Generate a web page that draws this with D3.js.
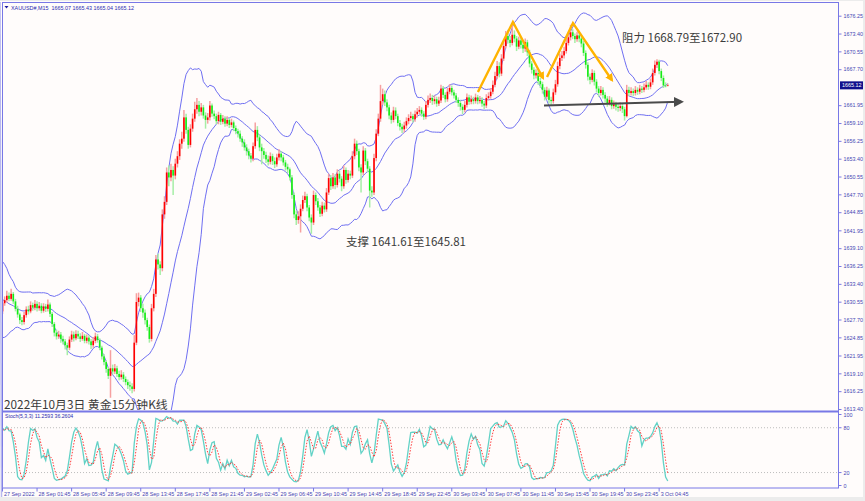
<!DOCTYPE html>
<html><head><meta charset="utf-8">
<script src="https://cdn.jsdelivr.net/npm/d3@7"></script>
<style>
html,body{margin:0;padding:0;background:#ececec;}
svg{display:block;}
</style></head><body>
<svg id="c" width="865" height="501"></svg>
<script>
// ---------- DATA ----------
const symbolTitle = "XAUUSD#,M15  1665.07 1665.43 1665.04 1665.12";
const stochTitle = "Stoch(5,3,3) 11.2593 36.2604";
const captionText = "2022年10月3日 黄金15分钟K线";
const supportText = "支撑 1641.61至1645.81";
const resistText = "阻力 1668.79至1672.90";

// bars before the visible window (only used to warm up indicators)
const priorClose = [1634.8,1635.6,1636.2,1635.1,1633.9,1634.5,1632.6,1631.4,1630.2,1628.9,1627.6,1628.4,1627.1,1626.5,1628.0,1629.3,1628.5,1629.8,1629.0];
const priorHigh  = [1635.4,1636.2,1636.9,1636.5,1635.5,1635.0,1634.8,1632.9,1631.7,1630.6,1629.3,1628.9,1628.8,1627.6,1628.6,1629.9,1629.7,1630.3,1630.1];
const priorLow   = [1634.0,1634.6,1635.3,1634.7,1633.4,1633.5,1632.1,1631.0,1629.8,1628.4,1627.0,1627.3,1626.6,1626.0,1626.2,1627.7,1628.0,1628.2,1628.5];

const closes = [
1630.3,1630.8,1631.5,1631.0,1631.8,1630.6,1629.4,1628.5,1627.6,1627.3,
1628.4,1629.3,1629.0,1630.0,1629.6,1630.2,1629.5,1629.9,1629.1,1629.8,
1629.4,1630.1,1628.6,1627.0,1625.6,1625.0,1625.3,1624.6,1624.2,1623.6,
1623.2,1624.5,1625.3,1624.7,1625.4,1625.0,1624.6,1625.1,1624.3,1624.8,
1624.2,1623.6,1624.3,1625.0,1624.4,1623.2,1621.8,1620.9,1619.8,1618.7,
1619.9,1619.4,1619.9,1619.0,1618.5,1618.9,1618.2,1617.7,1617.2,1617.0,
1616.6,1624.0,1630.5,1631.2,1629.5,1628.8,1627.6,1626.5,1624.6,1629.5,
1631.8,1637.3,1636.5,1635.9,1644.5,1646.5,1651.2,1650.4,1651.6,1650.7,
1652.6,1653.8,1655.8,1656.6,1660.0,1658.0,1655.6,1658.2,1659.8,1661.3,
1662.0,1660.9,1661.6,1660.3,1659.6,1660.0,1661.9,1660.6,1660.2,1659.4,
1660.4,1659.3,1659.8,1659.0,1659.6,1658.8,1659.2,1658.3,1657.8,1657.4,
1656.6,1656.0,1655.2,1654.6,1653.9,1653.4,1655.4,1658.0,1656.8,1655.2,
1654.6,1654.0,1653.3,1652.9,1653.8,1653.0,1652.5,1653.6,1654.2,1653.6,
1652.8,1652.1,1651.7,1650.4,1647.6,1644.5,1643.6,1644.2,1645.4,1646.8,
1647.4,1645.6,1644.0,1643.2,1647.6,1646.6,1645.6,1644.6,1645.9,1645.3,
1648.0,1650.3,1649.0,1650.4,1649.2,1651.0,1650.2,1649.0,1651.6,1650.0,
1651.0,1650.7,1653.8,1655.8,1654.6,1652.0,1651.2,1654.7,1653.0,1651.8,
1648.3,1648.0,1653.5,1657.4,1659.8,1662.6,1663.7,1662.4,1661.6,1660.3,
1659.6,1661.1,1660.2,1659.1,1658.5,1658.1,1658.7,1659.4,1659.9,1660.2,
1659.7,1660.5,1660.9,1661.2,1660.6,1660.1,1662.0,1662.8,1663.1,1662.6,
1662.9,1662.2,1662.7,1664.6,1663.6,1662.9,1664.1,1664.7,1664.0,1663.5,
1662.8,1662.3,1661.7,1661.2,1662.0,1663.2,1662.5,1662.9,1662.6,1663.2,
1662.6,1662.8,1662.2,1661.9,1663.1,1663.4,1664.1,1665.2,1666.6,1668.2,
1667.0,1669.4,1671.4,1673.0,1672.4,1671.9,1673.2,1672.6,1671.3,1672.3,
1671.6,1671.0,1672.0,1670.4,1668.6,1667.6,1666.7,1667.1,1665.8,1665.3,
1664.4,1663.3,1664.3,1662.8,1662.6,1664.0,1665.3,1668.2,1669.5,1669.9,
1670.6,1671.9,1672.8,1673.6,1673.0,1672.5,1673.1,1672.6,1671.8,1670.3,
1668.4,1666.5,1666.0,1667.1,1665.7,1664.6,1663.9,1664.4,1663.6,1663.0,
1662.3,1662.8,1661.8,1662.1,1661.7,1661.5,1661.8,1661.3,1660.2,1664.4,
1663.9,1664.2,1663.9,1664.4,1664.1,1664.6,1664.4,1664.8,1665.2,1664.9,
1665.6,1667.1,1668.4,1668.9,1667.4,1666.3,1665.1,1665.07,1665.12];

const highs = [
1630.9,1631.4,1632.3,1632.0,1632.6,1632.1,1631.0,1629.9,1628.8,1628.1,
1628.9,1629.8,1629.9,1630.6,1630.4,1630.8,1630.6,1630.5,1630.3,1630.3,
1630.2,1630.9,1630.4,1628.9,1627.3,1626.1,1625.9,1625.7,1625.1,1624.6,
1624.0,1625.0,1625.9,1625.8,1626.0,1625.9,1625.5,1625.7,1625.4,1625.3,
1625.2,1624.6,1624.9,1625.6,1625.4,1624.7,1623.5,1622.2,1621.2,1620.1,
1622.8,1620.5,1620.6,1620.3,1619.5,1619.6,1619.3,1618.6,1618.1,1617.8,
1617.5,1625.2,1631.9,1632.0,1631.6,1630.2,1629.3,1628.0,1626.9,1630.2,
1632.6,1638.0,1638.2,1637.0,1645.3,1647.4,1652.0,1652.3,1652.6,1652.2,
1653.4,1654.6,1656.5,1657.7,1661.2,1660.6,1658.5,1658.9,1660.6,1662.5,
1663.1,1662.6,1662.3,1662.0,1660.8,1660.7,1662.6,1662.2,1661.1,1660.6,
1660.9,1660.7,1660.4,1660.2,1660.2,1659.9,1659.8,1659.5,1658.7,1658.2,
1657.9,1657.0,1656.5,1655.7,1655.0,1654.3,1656.0,1659.2,1658.6,1657.3,
1655.8,1655.1,1654.5,1653.9,1654.4,1654.2,1653.6,1654.2,1654.9,1654.6,
1654.0,1653.2,1652.6,1652.0,1650.8,1648.0,1645.1,1645.0,1646.1,1647.5,
1648.1,1647.8,1646.0,1644.5,1648.3,1648.0,1647.1,1646.0,1646.5,1646.4,
1648.7,1651.0,1650.8,1651.1,1650.9,1651.7,1651.5,1650.6,1652.3,1652.0,
1651.6,1651.5,1654.6,1656.6,1656.3,1655.0,1652.5,1655.4,1655.1,1653.4,
1652.2,1649.0,1654.2,1658.1,1660.6,1665.2,1664.6,1664.3,1662.9,1662.0,
1660.8,1661.7,1661.6,1660.6,1659.6,1659.0,1659.3,1660.0,1660.5,1660.9,
1660.6,1661.1,1661.5,1661.8,1661.6,1661.0,1662.6,1663.5,1663.8,1663.6,
1663.5,1663.3,1663.3,1665.2,1665.0,1664.0,1664.7,1665.3,1665.1,1664.4,
1663.9,1663.2,1662.7,1662.1,1662.6,1663.8,1663.6,1663.5,1663.3,1663.8,
1663.6,1663.4,1663.2,1662.6,1663.7,1664.0,1664.7,1665.9,1667.3,1669.0,
1668.8,1670.1,1672.2,1673.8,1674.0,1673.0,1675.0,1673.9,1673.0,1672.9,
1672.8,1672.1,1672.6,1672.4,1670.8,1669.0,1668.0,1667.7,1667.5,1666.3,
1665.7,1664.8,1664.9,1664.6,1663.3,1664.6,1666.0,1668.9,1670.2,1670.6,
1671.3,1672.6,1673.5,1674.8,1674.1,1673.4,1673.7,1673.5,1673.0,1672.2,
1670.7,1668.8,1667.0,1667.7,1667.5,1666.1,1665.0,1665.0,1664.8,1664.0,
1663.4,1663.4,1663.2,1662.7,1662.5,1662.2,1662.4,1662.2,1661.7,1665.2,
1664.9,1664.8,1664.6,1665.0,1664.8,1665.2,1665.0,1665.4,1665.8,1665.6,
1666.2,1667.8,1669.1,1669.3,1669.2,1667.8,1666.7,1665.6,1665.43];

const lows = [
1628.6,1629.9,1630.4,1630.6,1630.7,1630.2,1629.0,1628.0,1627.0,1626.8,
1626.9,1628.0,1628.5,1628.7,1629.1,1629.2,1629.0,1629.1,1628.7,1628.8,
1628.9,1629.0,1628.1,1626.5,1625.0,1624.5,1624.6,1624.0,1623.7,1622.9,
1622.0,1622.8,1624.1,1624.2,1624.4,1624.6,1624.1,1624.3,1623.9,1623.9,
1623.7,1623.0,1623.2,1623.9,1624.0,1622.8,1621.3,1620.4,1619.2,1618.2,
1615.2,1618.9,1619.0,1618.5,1618.0,1618.1,1617.7,1617.2,1616.6,1616.3,
1615.9,1616.2,1623.6,1629.8,1628.9,1628.0,1626.9,1625.9,1624.0,1624.2,
1629.0,1631.3,1635.7,1634.8,1635.4,1643.8,1646.0,1649.0,1649.8,1647.6,
1650.1,1652.0,1653.2,1655.0,1656.1,1657.4,1655.0,1655.2,1657.7,1659.3,
1660.6,1660.2,1660.3,1659.8,1658.2,1659.0,1659.5,1660.1,1659.7,1658.9,
1658.9,1658.8,1658.9,1658.5,1658.6,1658.3,1658.4,1657.8,1657.3,1656.8,
1656.1,1655.3,1654.7,1653.9,1653.3,1652.8,1653.0,1655.0,1656.2,1654.6,
1652.5,1653.4,1652.7,1652.3,1652.5,1652.4,1651.9,1652.1,1653.1,1653.0,
1652.3,1651.5,1651.1,1649.9,1647.0,1643.9,1642.8,1643.0,1641.6,1645.0,
1646.3,1645.0,1643.4,1641.4,1642.8,1646.0,1645.1,1644.1,1644.2,1644.8,
1644.9,1647.6,1648.4,1648.6,1648.5,1648.8,1649.6,1648.2,1648.6,1649.4,
1649.6,1650.1,1650.3,1653.3,1654.0,1651.4,1648.0,1650.8,1652.4,1651.2,
1645.6,1647.3,1647.6,1653.0,1657.0,1659.3,1662.0,1661.8,1661.0,1659.7,
1659.0,1659.2,1659.7,1658.6,1657.9,1657.5,1657.6,1658.2,1658.9,1659.4,
1659.2,1659.3,1660.0,1660.5,1660.1,1659.6,1659.7,1661.6,1662.3,1662.0,
1662.1,1661.7,1661.8,1662.3,1663.1,1662.4,1662.5,1663.7,1663.5,1663.0,
1662.3,1661.7,1661.1,1660.5,1660.8,1661.6,1662.0,1662.1,1662.1,1662.2,
1662.1,1662.2,1661.7,1661.3,1661.5,1662.7,1663.0,1663.7,1664.8,1666.1,
1666.4,1666.6,1669.0,1671.0,1671.8,1671.2,1671.5,1672.0,1670.6,1670.9,
1671.0,1670.3,1670.5,1669.8,1668.0,1667.0,1666.1,1666.2,1665.2,1664.7,
1663.8,1662.7,1662.9,1662.2,1662.0,1662.2,1663.6,1664.9,1667.7,1669.0,
1669.4,1670.2,1671.5,1672.3,1672.5,1671.9,1672.1,1672.0,1671.2,1669.8,
1667.8,1665.9,1665.3,1665.6,1665.1,1664.0,1663.3,1663.5,1663.0,1662.4,
1661.7,1661.9,1661.3,1661.4,1661.1,1660.9,1661.0,1660.7,1659.5,1660.0,
1663.4,1663.5,1663.4,1663.5,1663.6,1663.7,1663.9,1664.0,1664.4,1664.4,
1664.5,1665.2,1666.7,1667.9,1666.9,1665.8,1664.7,1664.8,1665.04];

// 1664.85 sits under the current-price box in the reference, so it is not labelled
const priceTicks = [1676.25,1673.40,1670.55,1667.70,1661.95,1659.10,1656.25,1653.40,1650.55,1647.70,1644.85,1641.95,1639.10,1636.25,1633.40,1630.55,1627.70,1624.85,1621.95,1619.10,1616.25,1613.40];
const stochTicks = [100,80,20,0];
const stochLevels = [80,20];
const timeLabels = ["27 Sep 2022","28 Sep 01:45","28 Sep 05:45","28 Sep 09:45","28 Sep 13:45","28 Sep 17:45","28 Sep 21:45","29 Sep 02:45","29 Sep 06:45","29 Sep 10:45","29 Sep 14:45","29 Sep 18:45","29 Sep 22:45","30 Sep 03:45","30 Sep 07:45","30 Sep 11:45","30 Sep 15:45","30 Sep 19:45","30 Sep 23:45","3 Oct 04:45"];
const timeLabelBars = [0,16,32,48,64,80,96,112,128,144,160,176,192,208,224,240,256,272,288,304];

// annotations in (bar index, price)
const mUpDown1 = [[220.1,1664.06],[236.3,1675.24],[250.2,1666.3]];
const mUpDown2 = [[252.1,1666.45],[264.1,1675.08],[282.1,1665.98]];
const neckline = [[250.7,1661.9],[314.1,1662.5]];
const supportPos = [159.0,1639.45];
const resistPos = [286.8,1672.05];
const lastPrice = 1665.12;

// ---------- DRAW ----------
const W = 865, H = 501;
const plotL = 2, plotR = 838, mainT = 3, mainB = 411, stT = 412, stB = 488;
const FONT = "'Liberation Sans', Arial, sans-serif";
const CJK = "'Noto Sans CJK SC', 'Noto Sans', sans-serif";
const AXC = "#4646b4", FRAME = "#7878e6";

const svg = d3.select("#c");
svg.append("rect").attr("width", W).attr("height", H).attr("fill", "#ececec");
svg.append("rect").attr("x", 0).attr("y", 1).attr("width", 863).attr("height", 496).attr("fill", "#fffcfb");

const defs = svg.append("defs");
defs.append("clipPath").attr("id", "cm").append("rect")
  .attr("x", plotL + 1).attr("y", mainT + 1).attr("width", plotR - plotL - 1).attr("height", mainB - mainT - 2);
defs.append("clipPath").attr("id", "cs").append("rect")
  .attr("x", plotL + 1).attr("y", stT + 1).attr("width", plotR - plotL - 1).attr("height", stB - stT - 1);
const mk = (id, col, s) => defs.append("marker").attr("id", id).attr("markerUnits", "userSpaceOnUse")
  .attr("viewBox", "0 0 10 10").attr("refX", 7).attr("refY", 5).attr("markerWidth", s).attr("markerHeight", s)
  .attr("orient", "auto").append("path").attr("d", "M0,0 L10,5 L0,10 Z").attr("fill", col);
mk("ao", "#ffb300", 8);
mk("ag", "#4a4a4a", 10);

const N = closes.length;
const x = d3.scaleLinear().domain([0, N - 1]).range([2.5, 2.5 + 2.16 * (N - 1)]);
const y = d3.scaleLinear().domain([1613.40, 1676.25]).range([409, 15.7]);
const ys = d3.scaleLinear().domain([0, 100]).range([487.5, 412.8]);

// indicators
const P = priorClose.length;
const allC = priorClose.concat(closes), allH = priorHigh.concat(highs), allL = priorLow.concat(lows);
const bb = closes.map((c, i) => {
  const k = i + P, w = allC.slice(k - 19, k + 1);
  const m = d3.mean(w), sd = Math.sqrt(d3.mean(w, v => (v - m) * (v - m)));
  return { i, m, u: m + 2 * sd, l: m - 2 * sd };
});
const num = [], den = [], K = [], D = [];
for (let k = 0; k < allC.length; k++) {
  if (k >= 4) {
    const hh = d3.max(allH.slice(k - 4, k + 1)), ll = d3.min(allL.slice(k - 4, k + 1));
    num[k] = allC[k] - ll; den[k] = hh - ll;
  }
  if (k >= 6) K[k] = 100 * (num[k] + num[k - 1] + num[k - 2]) / (den[k] + den[k - 1] + den[k - 2]);
  if (k >= 8) D[k] = (K[k] + K[k - 1] + K[k - 2]) / 3;
}
const st = closes.map((c, i) => ({ i, k: K[i + P], d: D[i + P] }));

// bars
const bars = closes.map((c, i) => ({ i, o: i === 0 ? priorClose[P - 1] : closes[i - 1], c, h: highs[i], l: lows[i] }));
const gm = svg.append("g").attr("clip-path", "url(#cm)");

// bollinger bands
const bandCol = "#6f6ff2";
["u", "m", "l"].forEach(key => {
  gm.append("path").datum(bb).attr("fill", "none").attr("stroke", bandCol).attr("stroke-width", 1)
    .attr("d", d3.line().x(d => x(d.i)).y(d => y(d[key])));
});

const gb = gm.append("g");
gb.selectAll("line.w").data(bars).join("line").attr("class", "w")
  .attr("x1", d => x(d.i)).attr("x2", d => x(d.i))
  .attr("y1", d => y(Math.max(d.h, d.o, d.c))).attr("y2", d => y(Math.min(d.l, d.o, d.c)))
  .attr("stroke", d => d.c >= d.o ? "#f6a0a0" : "#a6eea6").attr("stroke-width", 1.5);
gb.selectAll("rect.b").data(bars).join("rect").attr("class", "b")
  .attr("x", d => x(d.i) - 0.8).attr("width", 1.6)
  .attr("y", d => y(Math.max(d.o, d.c)))
  .attr("height", d => Math.max(0.8, y(Math.min(d.o, d.c)) - y(Math.max(d.o, d.c))))
  .attr("fill", d => d.c >= d.o ? "#ff0000" : "#14ec14");

// annotations
const aLine = d3.line().x(d => x(d[0])).y(d => y(d[1]));
[mUpDown1, mUpDown2].forEach(pts => {
  gm.append("path").datum(pts).attr("d", aLine).attr("fill", "none").attr("stroke", "#ffb300")
    .attr("stroke-width", 2.4).attr("stroke-linejoin", "miter").attr("marker-end", "url(#ao)");
});
svg.append("path").datum(neckline).attr("d", aLine).attr("fill", "none").attr("stroke", "#4a4a4a")
  .attr("stroke-width", 2).attr("marker-end", "url(#ag)");

svg.append("text").attr("x", x(supportPos[0])).attr("y", y(supportPos[1])).text(supportText)
  .attr("font-family", CJK).attr("font-size", 11.5).attr("fill", "#3c3c3c");
svg.append("text").attr("x", x(resistPos[0])).attr("y", y(resistPos[1])).text(resistText)
  .attr("font-family", CJK).attr("font-size", 11.5).attr("fill", "#3c3c3c");

// stochastic
const gs = svg.append("g").attr("clip-path", "url(#cs)");
stochLevels.forEach(v => {
  gs.append("line").attr("x1", plotL).attr("x2", plotR).attr("y1", ys(v)).attr("y2", ys(v))
    .attr("stroke", "#bdbdbd").attr("stroke-width", 1).attr("stroke-dasharray", "1,2");
});
gs.append("path").datum(st.filter(d => d.k != null)).attr("fill", "none").attr("stroke", "#62d2c6").attr("stroke-width", 1.3)
  .attr("d", d3.line().x(d => x(d.i)).y(d => ys(d.k)));
gs.append("path").datum(st.filter(d => d.d != null)).attr("fill", "none").attr("stroke", "#ff3c3c").attr("stroke-width", 1)
  .attr("stroke-dasharray", "1.5,1.5").attr("d", d3.line().x(d => x(d.i)).y(d => ys(d.d)));

// frames
svg.append("rect").attr("x", plotL + 0.5).attr("y", mainT - 0.5).attr("width", plotR - plotL).attr("height", stB - mainT + 0.5)
  .attr("fill", "none").attr("stroke", FRAME).attr("stroke-width", 1);
svg.append("line").attr("x1", 0).attr("x2", 1.5).attr("y1", 2).attr("y2", 497).attr("stroke", "#b8b8ee").attr("stroke-width", 1.5);
svg.append("line").attr("x1", plotL).attr("x2", plotR).attr("y1", mainB + 0.5).attr("y2", mainB + 0.5)
  .attr("stroke", FRAME).attr("stroke-width", 2);

// right price axis
const ga = svg.append("g").attr("transform", `translate(${plotR + 0.5},0)`)
  .call(d3.axisRight(y).tickValues(priceTicks).tickSize(3).tickPadding(2).tickFormat(d => d.toFixed(2)));
ga.select(".domain").remove();
ga.selectAll("line").attr("stroke", FRAME);
ga.selectAll("text").attr("font-family", FONT).attr("font-size", 5.4).attr("fill", AXC);

// current price box
svg.append("rect").attr("x", plotR + 2).attr("y", y(lastPrice) - 4).attr("width", 23).attr("height", 8).attr("fill", "#10108c");
svg.append("text").attr("x", plotR + 4).attr("y", y(lastPrice) + 2).text(lastPrice.toFixed(2))
  .attr("font-family", FONT).attr("font-size", 5.4).attr("fill", "#ffffff");

// stoch axis
const gsa = svg.append("g").attr("transform", `translate(${plotR + 0.5},0)`);
stochTicks.forEach(v => {
  const yy = Math.min(Math.max(ys(v), 414.5), 485.5);
  gsa.append("line").attr("x1", 0).attr("x2", 3).attr("y1", yy).attr("y2", yy).attr("stroke", FRAME);
  gsa.append("text").attr("x", 5).attr("y", yy + 2).text(v).attr("font-family", FONT).attr("font-size", 5.4).attr("fill", AXC);
});

// time axis
const gt = svg.append("g");
timeLabels.forEach((t, j) => {
  const xx = x(timeLabelBars[j]);
  gt.append("line").attr("x1", xx).attr("x2", xx).attr("y1", stB).attr("y2", stB + 3.5).attr("stroke", FRAME);
  gt.append("text").attr("x", xx + 1.5).attr("y", 495.5).text(t).attr("font-family", FONT).attr("font-size", 5.4).attr("fill", AXC);
});

// titles
svg.append("path").attr("d", "M4.5,6 L8.5,6 L6.5,8.5 Z").attr("fill", "#1a1aa0");
svg.append("text").attr("x", 11).attr("y", 9.5).text(symbolTitle).attr("font-family", FONT).attr("font-size", 5.4)
  .attr("fill", "#2a2ab0").attr("xml:space", "preserve").style("white-space", "pre");
svg.append("text").attr("x", 5).attr("y", 418).text(stochTitle).attr("font-family", FONT).attr("font-size", 5.2).attr("fill", "#2a2ab0");
svg.append("text").attr("x", 4).attr("y", 409).text(captionText).attr("font-family", CJK).attr("font-size", 11.8).attr("fill", "#3a3a3a");
</script>
</body></html>
